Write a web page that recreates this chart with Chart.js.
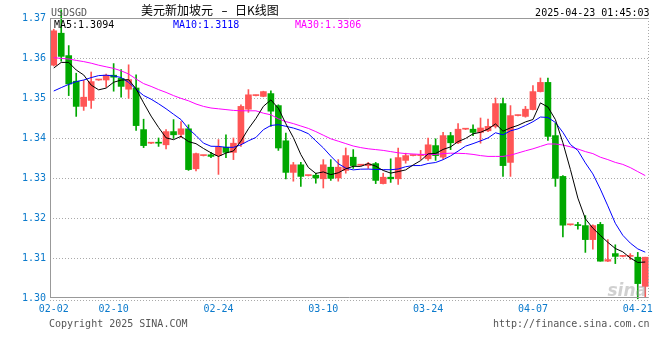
<!DOCTYPE html>
<html><head><meta charset="utf-8">
<script src="https://cdn.jsdelivr.net/npm/chart.js@4.4.1/dist/chart.umd.min.js"></script>
<style>html,body{margin:0;padding:0;background:#fff;}#wrap{width:660px;height:360px;position:relative;}</style>
</head><body><div id="wrap"><canvas id="c" width="660" height="360"></canvas></div>
<script>
const dates = ['02-02','02-03','02-04','02-05','02-06','02-07','02-08','02-09','02-10','02-11','02-12','02-13','02-14','02-15','02-16','02-17','02-18','02-19','02-20','02-21','02-22','02-23','02-24','02-25','02-26','02-27','02-28',
'03-01','03-02','03-03','03-04','03-05','03-06','03-07','03-08','03-09','03-10','03-11','03-12','03-13','03-14','03-15','03-16','03-17','03-18','03-19','03-20','03-21','03-22','03-23','03-24','03-25','03-26','03-27','03-28','03-29','03-30','03-31',
'04-01','04-02','04-03','04-04','04-05','04-06','04-07','04-08','04-09','04-10','04-11','04-12','04-13','04-14','04-15','04-16','04-17','04-18','04-19','04-20','04-21','04-22'];
const xTickLabels = ['02-02','02-10','02-24','03-10','03-24','04-07','04-21'];
const xGridLabels = ['02-10','02-24','03-10','03-24','04-07'];
const yTicks = [1.30,1.31,1.32,1.33,1.34,1.35,1.36,1.37];

const openP = [1.3582,1.3662,1.3606,1.3542,1.3479,1.3494,1.3545,1.3545,1.3557,1.3549,
1.3522,1.3525,1.3421,1.3387,1.3389,1.3383,1.3416,1.3409,1.3423,1.3323,
1.3356,1.3358,1.3356,1.3377,1.3364,1.3386,1.3472,1.3506,1.3504,1.3511,
1.3481,1.3393,1.3314,1.3333,1.3306,1.3307,1.3298,1.3327,1.3300,1.3319,
1.3352,1.3332,1.3331,1.3336,1.3286,1.3302,1.3298,1.3344,1.3356,1.3356,
1.3348,1.3381,1.3352,1.3406,1.3388,1.3422,1.3422,1.3414,1.3418,1.3429,
1.3486,1.3339,1.3456,1.3454,1.3471,1.3516,1.3539,1.3406,1.3304,1.3183,
1.3183,1.3181,1.3146,1.3184,1.3092,1.3111,1.3104,1.3104,1.3102,1.3029];
const highP = [1.3672,1.3720,1.3631,1.3562,1.3544,1.3565,1.3546,1.3560,1.3586,1.3571,
1.3583,1.3558,1.3447,1.3388,1.3400,1.3421,1.3446,1.3441,1.3433,1.3362,
1.3357,1.3364,1.3396,1.3408,1.3400,1.3483,1.3521,1.3507,1.3517,1.3518,
1.3483,1.3412,1.3339,1.3339,1.3307,1.3312,1.3346,1.3346,1.3346,1.3375,
1.3371,1.3333,1.3339,1.3339,1.3312,1.3348,1.3375,1.3362,1.3357,1.3369,
1.3400,1.3398,1.3414,1.3414,1.3436,1.3423,1.3433,1.3450,1.3447,1.3500,
1.3500,1.3481,1.3457,1.3479,1.3531,1.3550,1.3550,1.3437,1.3306,1.3184,
1.3189,1.3206,1.3183,1.3189,1.3146,1.3133,1.3105,1.3111,1.3114,1.3102];
const lowP = [1.3580,1.3592,1.3506,1.3454,1.3469,1.3474,1.3544,1.3527,1.3517,1.3502,
1.3499,1.3419,1.3376,1.3386,1.3379,1.3373,1.3399,1.3401,1.3319,1.3318,
1.3355,1.3351,1.3309,1.3351,1.3346,1.3379,1.3464,1.3505,1.3503,1.3429,
1.3369,1.3298,1.3292,1.3279,1.3305,1.3287,1.3275,1.3294,1.3292,1.3312,
1.3324,1.3331,1.3324,1.3286,1.3285,1.3289,1.3284,1.3337,1.3355,1.3346,
1.3344,1.3344,1.3347,1.3371,1.3386,1.3421,1.3406,1.3387,1.3416,1.3425,
1.3304,1.3304,1.3455,1.3452,1.3470,1.3515,1.3394,1.3279,1.3153,1.3182,
1.3172,1.3114,1.3122,1.3092,1.3091,1.3086,1.3103,1.3096,1.2998,1.3001];
const closeP = [1.3668,1.3604,1.3535,1.3479,1.3502,1.3541,1.3545,1.3557,1.3552,1.3529,
1.3546,1.3431,1.3381,1.3387,1.3387,1.3416,1.3408,1.3423,1.3321,1.3361,
1.3356,1.3354,1.3377,1.3364,1.3387,1.3479,1.3508,1.3506,1.3516,1.3467,
1.3375,1.3314,1.3333,1.3304,1.3306,1.3300,1.3333,1.3299,1.3327,1.3356,
1.3331,1.3332,1.3335,1.3294,1.3302,1.3298,1.3351,1.3356,1.3356,1.3356,
1.3383,1.3356,1.3406,1.3388,1.3422,1.3422,1.3414,1.3425,1.3429,1.3486,
1.3331,1.3456,1.3456,1.3472,1.3516,1.3539,1.3404,1.3299,1.3182,1.3183,
1.3181,1.3146,1.3181,1.3092,1.3096,1.3104,1.3104,1.3104,1.3036,1.3102];
const ma5 = [1.3575,1.3589,1.3589,1.3570,1.35576,1.35322,1.35204,1.35248,1.35394,1.35448,
1.35458,1.3523,1.34878,1.34548,1.34264,1.34004,1.33958,1.34042,1.3391,1.33858,
1.33738,1.3363,1.33538,1.33624,1.33676,1.33922,1.3423,1.34488,1.34792,1.34952,
1.34744,1.34356,1.3401,1.33586,1.33264,1.33114,1.33152,1.33084,1.3313,1.3323,
1.33292,1.3329,1.33362,1.33296,1.33188,1.33122,1.3316,1.33202,1.33326,1.33434,
1.33604,1.33614,1.33714,1.33778,1.3391,1.33988,1.34104,1.34142,1.34224,1.34352,
1.3417,1.34254,1.34316,1.34402,1.34462,1.34878,1.34774,1.3446,1.3388,1.33214,
1.32498,1.31982,1.31746,1.31566,1.31392,1.31238,1.31154,1.3100,1.30888,1.3090];
const ma10 = [1.35175,1.3526,1.3534,1.3541,1.3545,1.3551,1.3556,1.3557,1.3555,1.35512,
1.3539,1.35217,1.35063,1.34971,1.34856,1.34731,1.34594,1.3446,1.34229,1.34061,
1.33871,1.33794,1.3379,1.33767,1.33767,1.3383,1.3393,1.34013,1.34208,1.34314,
1.34333,1.34293,1.34249,1.34189,1.34108,1.33929,1.33754,1.33547,1.33358,1.33247,
1.33203,1.33221,1.33223,1.33213,1.33209,1.33207,1.33225,1.33282,1.33311,1.33311,
1.33363,1.33387,1.33458,1.33552,1.33672,1.33796,1.33859,1.33928,1.34001,1.34131,
1.34079,1.34179,1.34229,1.34313,1.34407,1.34524,1.34514,1.34388,1.34141,1.33838,
1.33688,1.33378,1.33103,1.32723,1.32303,1.31868,1.31568,1.31373,1.31227,1.31146];
const ma30 = [1.36008,1.3599,1.35975,1.3594,1.3591,1.3587,1.3582,1.3578,1.3574,1.3568,
1.3560,1.35475,1.3536,1.3529,1.3521,1.3514,1.3506,1.3499,1.3493,1.3485,
1.3479,1.3475,1.3473,1.3471,1.3469,1.3468,1.3468,1.3468,1.3462,1.3458,
1.3448,1.3441,1.3436,1.3430,1.3424,1.3416,1.3407,1.3398,1.3392,1.3386,
1.3380,1.3376,1.3373,1.3371,1.3369,1.3366,1.3363,1.3361,1.3360,1.3359,
1.3359,1.3359,1.3361,1.3362,1.33617,1.3361,1.3359,1.3356,1.3354,1.3354,
1.3354,1.3357,1.33625,1.3368,1.3373,1.3379,1.3385,1.3385,1.33825,1.3378,
1.33725,1.3366,1.3361,1.3352,1.3346,1.3339,1.3334,1.3326,1.3316,1.3306];
const maLegend = ['MA5:1.3094','MA10:1.3118','MA30:1.3306'];
const symbolText = 'USDSGD';
const titleText = ['美元新加坡元','–','日K线图'];
const stampText = '2025-04-23 01:45:03';
const copyText = 'Copyright 2025 SINA.COM';
const urlText = 'http://finance.sina.com.cn';

const RED = '#ff5555', GREEN = '#00a800';
const candleColors = closeP.map((c,i)=> c >= openP[i] ? RED : GREEN);
const MONO = '"DejaVu Sans Mono", monospace';
const BLUE_TXT = '#0b7acc';

const overlay = {
  id:'overlay',
  afterDraw(chart){
    const c = chart.ctx, a = chart.chartArea;
    c.save();
    c.setLineDash([]);
    c.strokeStyle = '#999'; c.lineWidth = 1;
    c.beginPath();
    c.moveTo(a.left, a.top+0.5); c.lineTo(a.right, a.top+0.5);
    c.moveTo(a.left+0.5, a.top); c.lineTo(a.left+0.5, a.bottom);
    c.moveTo(a.left, a.bottom-0.5); c.lineTo(a.right, a.bottom-0.5);
    c.stroke();
    c.setLineDash([1,2]); c.strokeStyle = '#aaa';
    c.beginPath();
    c.moveTo(a.right-0.5, a.top); c.lineTo(a.right-0.5, a.bottom);
    c.moveTo(a.left, a.bottom+2.5); c.lineTo(a.right, a.bottom+2.5);
    c.stroke();
    c.setLineDash([]);
    // header
    c.textBaseline = 'alphabetic';
    c.font = '10px ' + MONO; c.fillStyle = '#555'; c.textAlign='left';
    c.fillText(symbolText, 51, 16);
    c.font = '12px "Noto Sans CJK SC"'; c.fillStyle = '#000';
    c.fillText(titleText[0], 141, 14.5);
    c.font = '12px "DejaVu Sans"'; c.textAlign='center';
    c.fillText(titleText[1], 224.5, 14.5);
    c.font = '12px "Noto Sans CJK SC"'; c.textAlign='left';
    c.fillText(titleText[2], 235, 14.5);
    c.font = '10px ' + MONO; c.textAlign='right'; c.fillStyle='#000';
    c.fillText(stampText, 649.5, 15.5);
    // legend
    c.textAlign='left';
    const lx = [54, 173, 295], lc = ['#000','#0000ff','#ff00ff'];
    maLegend.forEach((t,i)=>{ c.fillStyle = lc[i]; c.fillText(t, lx[i], 27.5); });
    // footer
    c.fillStyle = '#555';
    c.fillText(copyText, 49, 327);
    c.textAlign='right';
    c.fillText(urlText, 649.5, 327);
    // watermark
    c.font = 'bold italic 17px "DejaVu Sans"'; c.fillStyle='rgba(150,150,150,0.45)';
    c.fillText('sina', 647, 296);
    c.restore();
  }
};

new Chart(document.getElementById('c'), {
  data: {
    labels: dates,
    datasets: [
      {type:'line', label:'MA5', data: ma5, borderColor:'#000', borderWidth:1, pointRadius:0, tension:0, order:0},
      {type:'line', label:'MA10', data: ma10, borderColor:'#0000ff', borderWidth:1, pointRadius:0, tension:0, order:0},
      {type:'line', label:'MA30', data: ma30, borderColor:'#ff00ff', borderWidth:1, pointRadius:0, tension:0, order:0},
      {type:'bar', label:'body', data: dates.map((d,i)=>[openP[i], closeP[i]]), backgroundColor: candleColors, barThickness:6, minBarLength:1, grouped:false, order:1},
      {type:'bar', label:'wick', data: dates.map((d,i)=>[lowP[i], highP[i]]), backgroundColor: candleColors, barThickness:1, grouped:false, order:2, clip:false}
    ]
  },
  options: {
    responsive:false, animation:false, events:[],
    layout:{padding:{left:0, right:11, top:18, bottom:0}},
    plugins:{legend:{display:false}, tooltip:{enabled:false}},
    scales:{
      x:{
        type:'category', offset:true,
        grid:{offset:false, drawTicks:false, lineWidth:1,
          color: ctx => (ctx.tick && xGridLabels.includes(dates[ctx.index])) ? '#aaa' : 'rgba(0,0,0,0)'},
        border:{display:false, dash:[1,2]},
        ticks:{autoSkip:false, maxRotation:0, minRotation:0, padding:5, color:BLUE_TXT,
          font:{family:MONO, size:10},
          callback:(v,i)=> xTickLabels.includes(dates[i]) ? dates[i] : null},
        afterFit: s => { s.height = 62; }
      },
      y:{
        min:1.30, max:1.37,
        afterBuildTicks: s => { s.ticks = yTicks.map(v=>({value:v})); },
        grid:{drawTicks:false, lineWidth:1,
          color: ctx => (ctx.tick && (ctx.tick.value < 1.3005 || ctx.tick.value > 1.3695)) ? 'rgba(0,0,0,0)' : '#aaa'},
        border:{display:false, dash:[1,2]},
        ticks:{padding:4, color:BLUE_TXT, font:{family:MONO, size:10}, callback: v => Number(v).toFixed(2)},
        afterFit: s => { s.width = 50; }
      }
    }
  },
  plugins:[overlay]
});
</script></body></html>
